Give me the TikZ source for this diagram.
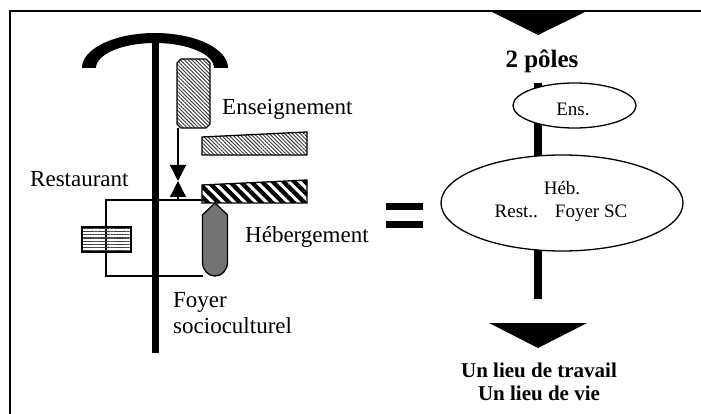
\documentclass[tikz,border=0pt]{standalone}
\usepackage{fontspec}
\setmainfont{Liberation Serif}
\usetikzlibrary{arrows.meta,patterns.meta,shapes.geometric}

\begin{document}
\begin{tikzpicture}[x=1pt,y=-1pt,
  lbl/.style={anchor=base west, inner sep=0pt, font=\fontsize{23}{27}\selectfont},
  small/.style={anchor=base, inner sep=0pt, font=\fontsize{19}{23}\selectfont},
  boldtxt/.style={anchor=base, inner sep=0pt, font=\fontsize{21}{25}\selectfont\bfseries},
  thin/.style={line width=1.2pt},
  outline/.style={draw=black, line width=1.3pt},
  finehatch/.style={outline, pattern={Lines[angle=-45,distance=2.7pt,line width=0.9pt]}, pattern color=black!80},
  boldhatch/.style={outline, pattern={Lines[angle=-45,distance=7.6pt,line width=4.2pt]}, pattern color=black},
  pole/.style={ellipse, draw=black, line width=1.3pt, fill=white, inner sep=0pt},
  meet/.style={-{Triangle[width=16pt,length=16pt]}, thin}
]
\useasboundingbox (0,0) rectangle (701,414);

% frame
\draw[line width=1.5pt] (10,414) -- (10,11) -- (701,11);

% ---------------- left: the site plan ----------------
% thin service lines
\coordinate (l1a) at (106,200);
\coordinate (l1b) at (203,200);
\coordinate (l2a) at (106,276);
\coordinate (l2b) at (203,276);
\draw[thin] (l1b) -- (l1a) -- (l2a) -- (l2b);

% main spine with its crescent head
\fill (151.5,40) rectangle (158.5,353);
\fill plot[domain=180:360, samples=60] ({155+73*cos(\x)}, {68+35*sin(\x)})
   -- plot[domain=360:180, samples=60] ({155+59*cos(\x)}, {68+25*sin(\x)}) -- cycle;

% teaching block (chamfered corners)
\draw[finehatch] (181,59) -- (206,59) -- (210,63) -- (210,124) -- (206,128)
   -- (181,128) -- (177,124) -- (177,63) -- cycle;
\coordinate (ensblock) at (193.5,93.5);

% two slanted wings
\draw[finehatch] (202,137) -- (307,132) -- (307,155) -- (202,155) -- cycle;
\coordinate (wing1) at (254,145);
\draw[boldhatch] (202,185) -- (307,180) -- (307,203) -- (202,203) -- cycle;
\coordinate (wing2) at (254,193);

% arrows meeting between the blocks
\coordinate (meetpt) at (178,181);
\coordinate (ensfoot) at (178,128.5);
\coordinate (linefoot) at (178,200);
\draw[meet] (ensfoot) -- (meetpt);
\draw[meet] (linefoot) -- (meetpt);

% restaurant block
\node[rectangle, minimum width=49pt, minimum height=25pt, inner sep=0pt, outline,
      pattern={Lines[angle=0,distance=3.2pt,line width=1.3pt]}, pattern color=black!75]
      (restblock) at (106.5,239.5) {};

% social centre block
\draw[outline, fill=black!55] (215,203) -- (227.5,215) -- (227.5,262)
   .. controls (227.5,270) and (222,276) .. (215,276)
   .. controls (208,276) and (202.5,270) .. (202.5,262) -- (202.5,215) -- cycle;
\coordinate (foyerblock) at (215,240);

% labels
\node[lbl] (tens) at (222,115) {Enseignement};
\node[lbl] (trest) at (30,187) {Restaurant};
\node[lbl] (theb) at (245,242) {Hébergement};
\node[lbl] (tfoy1) at (173,307) {Foyer};
\node[lbl] (tfoy2) at (173,333) {socioculturel};

% equals sign
\fill (386,203) rectangle (423,209.5);
\fill (386,221) rectangle (423,227.5);

% ---------------- right: the two poles ----------------
\fill (490,11) -- (587,11) -- (538,35) -- cycle;
\node[anchor=base, inner sep=0pt, font=\fontsize{25}{29}\selectfont\bfseries] (poles) at (542,68) {2 pôles};

\coordinate (bartop) at (538,83);
\coordinate (barbot) at (538,299);
\draw[line width=8pt] (bartop) -- (barbot);

\node[pole, minimum width=123pt, minimum height=45pt] (ens) at (574.5,105.5) {};
\node[pole, minimum width=242pt, minimum height=96pt] (heb) at (562,203) {};

\begin{scope}
  \clip (520,90) rectangle (630,115);
  \node[small] (tens2) at (573,116) {Ens.};
\end{scope}
\node[small] (theb2) at (562,195) {Héb.};
\node[small] (trest2) at (561,218) {Rest..\hspace{17pt}Foyer SC};

\fill (489,323) -- (587,323) -- (538,348) -- cycle;
\node[boldtxt] (out1) at (539,377) {Un lieu de travail};
\node[boldtxt] (out2) at (539,400) {Un lieu de vie};
\end{tikzpicture}
\end{document}
